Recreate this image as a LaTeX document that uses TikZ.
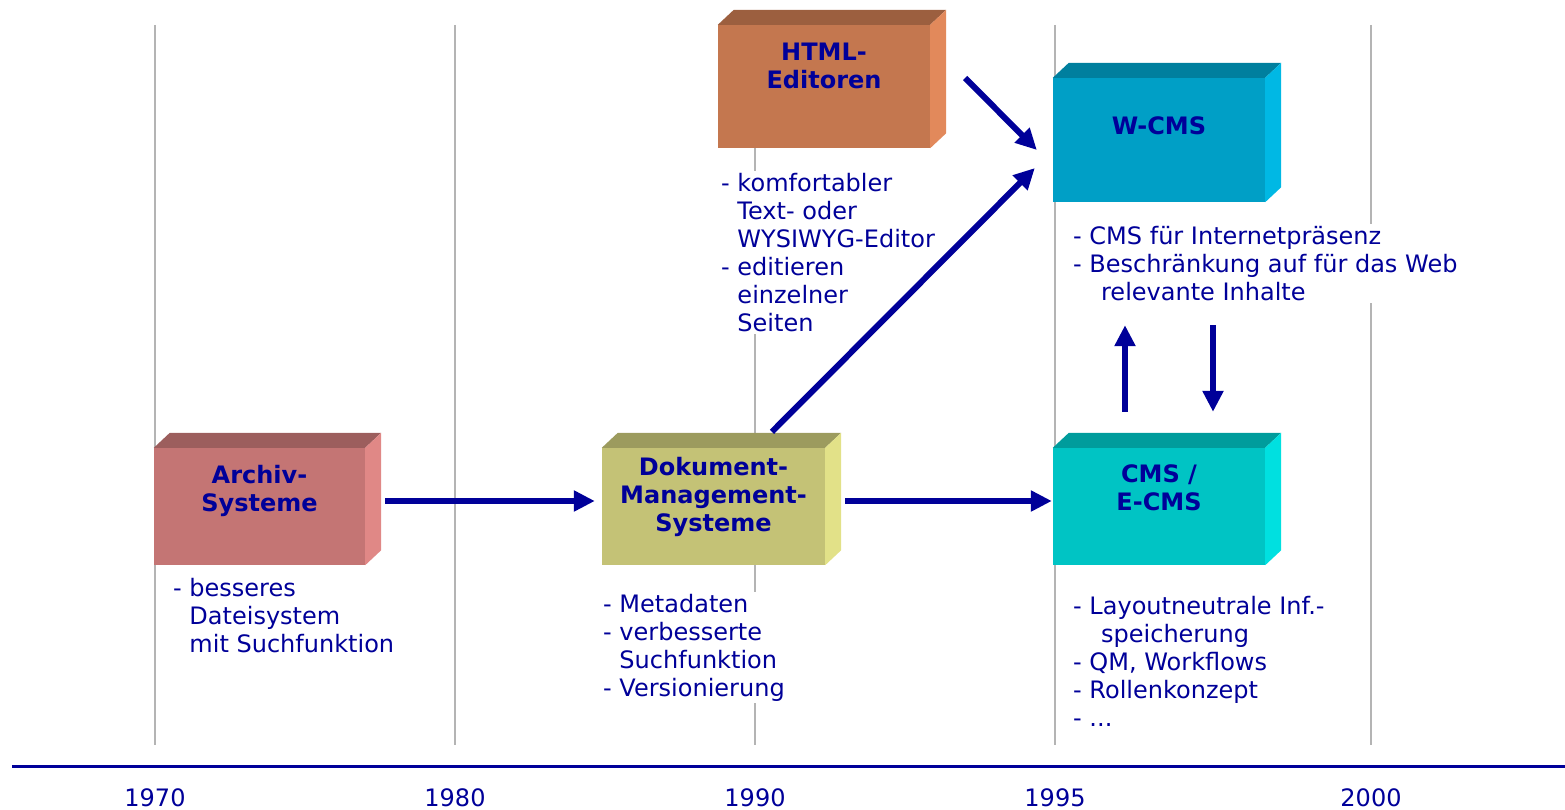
\documentclass[tikz,border=0pt]{standalone}
\usepackage{fontspec}
\setmainfont{DejaVu Sans}
\usepackage{tikz}
\usetikzlibrary{positioning}
\usetikzlibrary{arrows.meta}
\usepackage{xcolor}
\definecolor{navy}{HTML}{000099}
\definecolor{gridline}{HTML}{B4B4B4}
\definecolor{archivF}{HTML}{C47574}
\definecolor{archivT}{HTML}{9C5E5D}
\definecolor{archivR}{HTML}{E08886}
\definecolor{dmsF}{HTML}{C4C276}
\definecolor{dmsT}{HTML}{9C9B5E}
\definecolor{dmsR}{HTML}{E2E188}
\definecolor{htmlF}{HTML}{C4774F}
\definecolor{htmlT}{HTML}{9C5F3F}
\definecolor{htmlR}{HTML}{E2895B}
\definecolor{wcmsF}{HTML}{009FC6}
\definecolor{wcmsT}{HTML}{007F9E}
\definecolor{wcmsR}{HTML}{00B8E4}
\definecolor{cmsF}{HTML}{00C4C4}
\definecolor{cmsT}{HTML}{009C9C}
\definecolor{cmsR}{HTML}{00E0E0}

% top and side face of a box
\newcommand{\cubefaces}[3]{%
  \fill[#2] (#1.north west) -- ++(16,-15) -- ([shift={(16pt,15pt)}]#1.north east) -- (#1.north east) -- cycle;
  \fill[#3] (#1.north east) -- ([shift={(16pt,15pt)}]#1.north east) -- ([shift={(16pt,15pt)}]#1.south east) -- (#1.south east) -- cycle;
}
\newcommand{\ind}{\phantom{- }}

\tikzset{
  front/.style={inner sep=0pt, minimum width=212pt, minimum height=117pt},
  boxlabel/.style={font=\fontsize{24}{28}\selectfont\bfseries, text=navy, align=center, inner sep=0pt},
  txt/.style={font=\fontsize{24}{28}\selectfont, text=navy, align=left, fill=white, inner sep=2pt, anchor=north west},
  year/.style={font=\fontsize{24}{28}\selectfont, text=navy, anchor=base},
  arr/.style={draw=navy, line width=6pt, -{Triangle[length=21pt, width=20pt]}}
}

\begin{document}
\begin{tikzpicture}[x=1pt, y=-1pt]
  \useasboundingbox (0,0) rectangle (1565,810);

  \foreach \x/\yr in {155/1970, 455/1980, 755/1990, 1055/1995, 1371/2000} {
    \draw[gridline, line width=2pt] (\x,25) -- (\x,745);
    \node[year] (year\yr) at (\x,806) {\yr};
  }
  \draw[navy, line width=3pt] (12,766) -- (1565,766);

  \node[front, fill=archivF, minimum width=211pt] (archiv) at (259.5,506.5) {};
  \cubefaces{archiv}{archivT}{archivR}
  \node[front, fill=dmsF, minimum width=223pt] (dms) at (713.5,506.5) {};
  \cubefaces{dms}{dmsT}{dmsR}
  \node[front, fill=htmlF, minimum height=123pt] (html) at (824,86.5) {};
  \cubefaces{html}{htmlT}{htmlR}
  \node[front, fill=wcmsF, minimum height=124pt] (wcms) at (1159,140) {};
  \cubefaces{wcms}{wcmsT}{wcmsR}
  \node[front, fill=cmsF] (cms) at (1159,506.5) {};
  \cubefaces{cms}{cmsT}{cmsR}

  \node[boxlabel, below=17pt of archiv.north] (archivlbl) {Archiv-\\Systeme};
  \node[boxlabel, below=9pt of dms.north] (dmslbl) {Dokument-\\Management-\\Systeme};
  \node[boxlabel, below=18.5pt of html.north] (htmllbl) {HTML-\\Editoren};
  \node[boxlabel, below=38.5pt of wcms.north] (wcmslbl) {W-CMS};
  \node[boxlabel, below=17pt of cms.north] (cmslbl) {CMS /\\E-CMS};

  \node[txt] (archivtxt) at (171,576) {- besseres\\\ind Dateisystem\\\ind mit Suchfunktion};
  \node[txt] (dmstxt) at (601,592) {- Metadaten\\- verbesserte\\\ind Suchfunktion\\- Versionierung};
  \node[txt] (htmltxt) at (719,171) {- komfortabler\\\ind Text- oder\\\ind WYSIWYG-Editor\\- editieren\\\ind einzelner\\\ind Seiten};
  \node[txt] (wcmstxt) at (1071,224) {- CMS für Internetpräsenz\\- Beschränkung auf für das Web\\\ind\, relevante Inhalte};
  \node[txt] (cmstxt) at (1071,594) {- Layoutneutrale Inf.-\\\ind\, speicherung\\- QM, Workflows\\- Rollenkonzept\\- ...};

  \draw[arr, shorten <=20pt, shorten >=7pt] ([yshift=5.5pt]archiv.east) -- ([yshift=5.5pt]dms.west);
  \draw[arr, shorten <=20pt, shorten >=1pt] ([yshift=5.5pt]dms.east) -- ([yshift=5.5pt]cms.west);
  \draw[arr, shorten <=22.6pt, shorten >=25.5pt] ([xshift=42.5pt]dms.north) -- ([yshift=-10pt]wcms.west);
  \draw[arr, shorten <=49.5pt, shorten >=22.6pt] ([yshift=43.5pt]html.east) -- ([yshift=-26pt]wcms.west);
  \draw[arr, shorten <=36pt, shorten >=123pt] ([xshift=-34pt]cms.north) -- ([xshift=-34pt]wcms.south);
  \draw[arr, shorten <=123pt, shorten >=36pt] ([xshift=54pt]wcms.south) -- ([xshift=54pt]cms.north);
\end{tikzpicture}
\end{document}
